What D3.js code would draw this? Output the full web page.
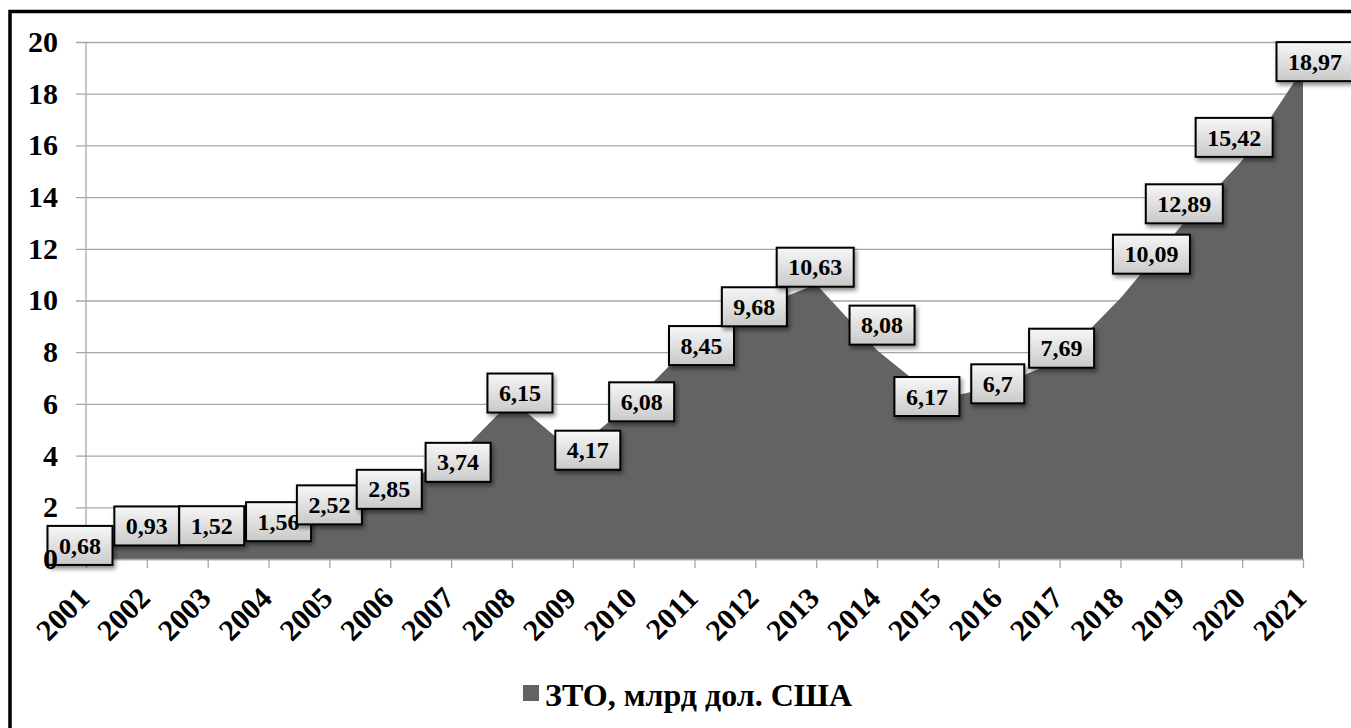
<!DOCTYPE html>
<html>
<head>
<meta charset="utf-8">
<script src="https://cdn.jsdelivr.net/npm/d3@7"></script>
<style>
  html, body { margin: 0; padding: 0; background: #fff; overflow: hidden; }
  svg text { font-family: 'Liberation Serif', Tinos, 'Times New Roman', Times, 'DejaVu Serif', serif; font-weight: 700; }
</style>
</head>
<body>
<svg id="chart"></svg>
<script>
// data
const years = ['2001','2002','2003','2004','2005','2006','2007','2008','2009','2010','2011',
  '2012','2013','2014','2015','2016','2017','2018','2019','2020','2021']
const values = [0.68, 0.93, 1.52, 1.56, 2.52, 2.85, 3.74, 6.15, 4.17, 6.08, 8.45,
  9.68, 10.63, 8.08, 6.17, 6.7, 7.69, 10.09, 12.89, 15.42, 18.97]
const yTicks = [0, 2, 4, 6, 8, 10, 12, 14, 16, 18, 20]
const seriesName = 'ЗТО, млрд дол. США'

// hand placed label nudges (dx, dy from the point), as in the original
const labelNudge = [[-6,4],[0,-9],[4,6],[10,3],[0,11],[-1,4],[7,0],[8,-7],[15,-1],[8,0],[7,5],
  [-1,-2],[-1,-17],[5,-25],[-11,-3],[-1,-2],[2,-12],[31,-44],[3,-22],[-8,-23],[12,-7]]

const W = 1351, H = 728
const fill = '#636363'

const svg = d3.select('#chart').attr('width', W).attr('height', H)

/* FILTERS & GRADIENTS */
const defs = svg.append('defs')
const grad = defs.append('linearGradient').attr('id', 'boxGrad')
  .attr('x1', 0).attr('y1', 0).attr('x2', 0).attr('y2', 1)
grad.append('stop').attr('offset', '0%').attr('stop-color', '#f7f7f7')
grad.append('stop').attr('offset', '100%').attr('stop-color', '#c9c9c9')
const shadow = defs.append('filter').attr('id', 'shadow')
  .attr('x', '-20%').attr('y', '-20%').attr('width', '150%').attr('height', '160%')
shadow.append('feDropShadow').attr('dx', 2).attr('dy', 3).attr('stdDeviation', 2)
  .attr('flood-color', '#000').attr('flood-opacity', 0.45)

/* OUTER FRAME */
svg.append('rect')
  .attr('x', 10).attr('y', 11.5).attr('width', 1400).attr('height', 800)
  .attr('fill', 'none').attr('stroke', '#000').attr('stroke-width', 3.5)

/* SCALES */
const xScale = d3.scalePoint().domain(years).range([86, 1303])
const yScale = d3.scaleLinear().domain([0, 20]).range([559, 42])

const g = svg.append('g')

/* GRIDLINES */
g.append('g')
  .attr('transform', 'translate(86,0)')
  .call(d3.axisLeft(yScale).tickValues(yTicks).tickSize(-(1303 - 86)).tickSizeOuter(0).tickFormat(''))
  .call(s => s.select('.domain').remove())
  .call(s => s.selectAll('line').attr('stroke', '#a6a6a6').attr('stroke-width', 1.3).attr('x1', -10))

/* AREA */
const area = d3.area()
  .x((d, i) => xScale(years[i]))
  .y0(yScale(0))
  .y1(d => yScale(d))
g.append('path').datum(values).attr('d', area).attr('fill', fill)

/* Y AXIS LINE */
g.append('line')
  .attr('x1', 86).attr('x2', 86).attr('y1', yScale(20)).attr('y2', yScale(0))
  .attr('stroke', '#a6a6a6').attr('stroke-width', 1.3)

/* X AXIS */
const xAxis = g.append('g')
  .attr('transform', `translate(0,${yScale(0)})`)
  .call(d3.axisBottom(xScale).tickSize(9).tickSizeOuter(0).tickFormat(''))
xAxis.select('.domain').attr('stroke', '#a6a6a6').attr('stroke-width', 1.3)
xAxis.selectAll('line').attr('stroke', '#a6a6a6').attr('stroke-width', 1.3)

g.append('g').selectAll('text')
  .data(years)
  .enter().append('text')
  .attr('transform', d => `translate(${xScale(d) + 5},${yScale(0) + 41}) rotate(-45)`)
  .attr('text-anchor', 'end')
  .attr('font-size', 30)
  .attr('fill', '#000')
  .text(d => d)

/* DATA LABELS */
const labels = g.append('g').selectAll('g')
  .data(values)
  .enter().append('g')
  .attr('transform', (d, i) => `translate(${xScale(years[i]) + labelNudge[i][0]},${yScale(d) + labelNudge[i][1]})`)

labels.append('rect').attr('class', 'lbl-box')
labels.append('text')
  .attr('text-anchor', 'middle')
  .attr('dy', '0.34em')
  .attr('font-size', 24)
  .attr('fill', '#000')
  .text(d => String(d).replace('.', ','))

labels.each(function() {
  const grp = d3.select(this)
  const bb = grp.select('text').node().getBBox()
  const w = bb.width + 23, h = 39
  grp.select('rect')
    .attr('x', -w / 2).attr('y', -h / 2)
    .attr('width', w).attr('height', h)
    .attr('fill', 'url(#boxGrad)')
    .attr('stroke', '#000').attr('stroke-width', 2)
    .attr('filter', 'url(#shadow)')
})

/* Y TICK LABELS */
g.append('g').selectAll('text')
  .data(yTicks)
  .enter().append('text')
  .attr('x', 58)
  .attr('y', d => yScale(d))
  .attr('dy', '0.33em')
  .attr('text-anchor', 'end')
  .attr('font-size', 30)
  .attr('fill', '#000')
  .text(d => d)

/* LEGEND */
const legend = svg.append('g').attr('transform', 'translate(523,685)')
legend.append('rect').attr('width', 16).attr('height', 16).attr('fill', fill)
legend.append('text')
  .attr('x', 22).attr('y', 21)
  .attr('font-size', 32)
  .attr('fill', '#000')
  .text(seriesName)
</script>
</body>
</html>
